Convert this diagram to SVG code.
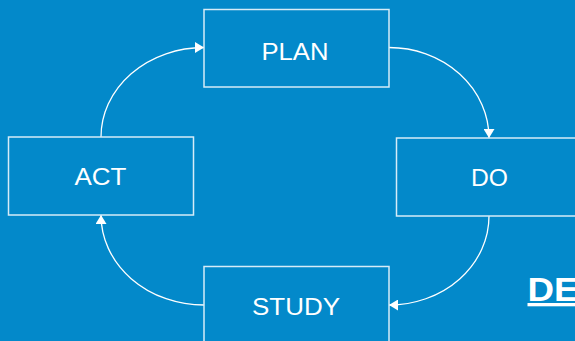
<svg xmlns="http://www.w3.org/2000/svg" width="575" height="341" viewBox="0 0 575 341">
<defs>
<style>
.box{fill:none;stroke:#d6ecf8;stroke-width:1.5}
.lbl{font-family:"Liberation Sans",Arial,sans-serif;font-size:24px;fill:#ffffff;text-anchor:middle}
.conn{fill:none;stroke:#ffffff;stroke-width:1.3}
</style>
<marker id="arr" markerUnits="userSpaceOnUse" markerWidth="11" markerHeight="11" refX="9" refY="5.5" orient="auto">
<path d="M0,0 L9,5.5 L0,11 Z" fill="#ffffff"/>
</marker>
</defs>
<rect width="575" height="341" fill="#0389ca"/>
<g id="connectors">
<path class="conn" d="M389,47.5 A100,90.5 0 0 1 489,138" marker-end="url(#arr)"/>
<path class="conn" d="M489,216 A100,89 0 0 1 389,305" marker-end="url(#arr)"/>
<path class="conn" d="M204,305 A103,90 0 0 1 101,215" marker-end="url(#arr)"/>
<path class="conn" d="M101,137 A103,89.5 0 0 1 204,47.5" marker-end="url(#arr)"/>
</g>
<g id="plan">
<rect class="box" x="204" y="9.5" width="185" height="77.5"/>
<text class="lbl" x="295" y="59.5" textLength="67" lengthAdjust="spacingAndGlyphs">PLAN</text>
</g>
<g id="do">
<rect class="box" x="396.5" y="138" width="185" height="78"/>
<text class="lbl" x="489.5" y="185.5" textLength="37" lengthAdjust="spacingAndGlyphs">DO</text>
</g>
<g id="study">
<rect class="box" x="204" y="266.5" width="185" height="78"/>
<text class="lbl" x="296" y="314.5" textLength="88" lengthAdjust="spacingAndGlyphs">STUDY</text>
</g>
<g id="act">
<rect class="box" x="8.5" y="137" width="185" height="78"/>
<text class="lbl" x="100.5" y="185" textLength="52" lengthAdjust="spacingAndGlyphs">ACT</text>
</g>
<g id="title">
<text x="527.5" y="301" font-family="Liberation Sans,Arial,sans-serif" font-size="33" font-weight="bold" fill="#ffffff" text-decoration="underline" textLength="51" lengthAdjust="spacingAndGlyphs">DE</text>
</g>
</svg>
